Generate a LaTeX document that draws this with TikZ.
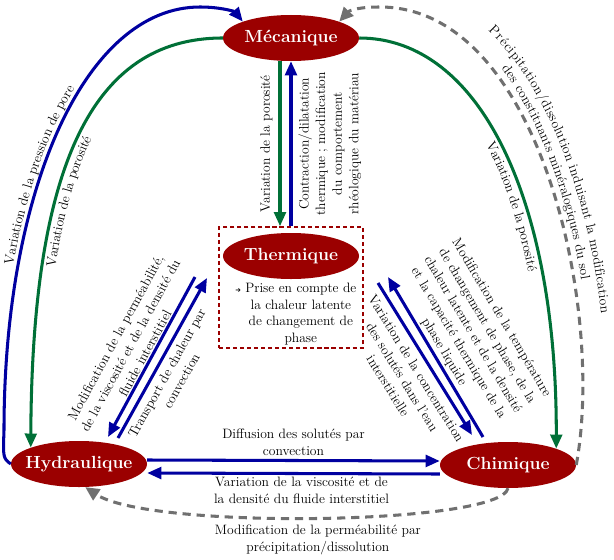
\documentclass[tikz,border=0pt]{standalone}
\usepackage{amsmath}
\usepackage{pifont}
\usepackage{xcolor}
\usepackage{tikz}
\usetikzlibrary{shapes.geometric,arrows.meta}
\usetikzlibrary{decorations.text}
\usetikzlibrary{calc}

\definecolor{darkred}{RGB}{155,0,0}
\definecolor{arrowblue}{RGB}{0,0,160}
\definecolor{arrowgreen}{RGB}{0,112,55}
\definecolor{dashgray}{RGB}{112,112,112}

\newcommand{\domtext}[1]{\makebox[0pt]{#1}}
\newcommand{\labelfont}{\fontsize{11.6}{14.2}\selectfont}

\begin{document}
\begin{tikzpicture}[x=0.03cm, y=-0.03cm,
	lbl/.style={font=\labelfont, align=center, inner sep=1pt},
	bluearrow/.style={draw=arrowblue, line width=2.6pt, -{Triangle[length=12pt,width=10pt]}},
	greenarrow/.style={draw=arrowgreen, line width=2.6pt, -{Triangle[length=12pt,width=10pt]}},
	grayarrow/.style={draw=dashgray, line width=2.6pt, dash pattern=on 7pt off 5pt, -{Triangle[length=12pt,width=11pt]}},
	curvelbl/.style={decorate, decoration={text along path, #1}}]
	\useasboundingbox (0,0) rectangle (614,560);

		%% domaines
		\node[draw=darkred, dash pattern=on 3.5pt off 2.5pt, line width=1.3pt, minimum width=4.32cm, minimum height=3.63cm, inner sep=0pt] (thbox) at (291,287.5) {};

		\begin{scope}[every node/.style={ellipse, fill=darkred, text=white, font=\fontsize{15}{18}\selectfont\bfseries, minimum width=4.08cm, minimum height=1.38cm, inner sep=0pt}]
		\node (mec) at (291,38) {\domtext{Mécanique}};
		\node (therm) at (291,256) {\domtext{Thermique}};
		\node (hyd) at (79,464) {\domtext{Hydraulique}};
		\node (chim) at (508,465) {\domtext{Chimique}};
		\end{scope}

		\node[lbl] (thtext) at (296,314) {{\tiny\ding{212}}\ \begin{tabular}[t]{@{}c@{}}Prise en compte de\\ la chaleur latente\\ de changement de\\ phase\end{tabular}};

		%% bouts des fleches obliques
		\coordinate (ths1) at (195,277);
		\coordinate (hyn1) at (108,437);
		\coordinate (hyn2) at (118,438);
		\coordinate (ths2) at (207,278);
		\coordinate (thc1) at (388,277);
		\coordinate (chn1) at (483,437);
		\coordinate (thc2) at (378,283);
		\coordinate (chn2) at (472,435);

		%% mecanique <-> thermique
		\draw[greenarrow] ([xshift=-0.33cm]mec.south) -- node[lbl, midway, rotate=90, anchor=south, inner sep=5pt] {Variation de la porosité} ([xshift=-0.33cm]thbox.north);
		\draw[bluearrow] (thbox.north) -- node[lbl, below=4pt, sloped] {Contraction/dilatation\\ thermique ; modification\\ du comportement\\ rhéologique du matériau} (mec.south);

		%% thermique <-> hydraulique
		\draw[bluearrow] (ths1) -- node[lbl, above=0pt, sloped] {Modification de la perméabilité,\\ de la viscosité et de la densité du\\ fluide interstitiel} (hyn1);
		\draw[bluearrow] (hyn2) -- node[lbl, below=3pt, sloped, pos=0.44] {Transport de chaleur par\\ convection} (ths2);

		%% thermique <-> chimique
		\draw[bluearrow] (chn1) -- node[lbl, above=1pt, sloped] {Modification de la température\\ de changement de phase, de la\\ chaleur latente et de la densité\\ et la capacité thermique de la\\ phase liquide} (thc1);
		\draw[bluearrow] (thc2) -- node[lbl, below=4pt, sloped, pos=0.52] {Variation de la concentration\\ des solutés dans l'eau\\ interstitielle} (chn2);

		%% hydraulique <-> chimique
		\draw[bluearrow] ([yshift=0.12cm]hyd.east) -- node[lbl, above=2pt] {Diffusion des solutés par\\ convection} ([yshift=0.12cm]chim.west);
		\draw[bluearrow] ([yshift=-0.27cm]chim.west) -- node[lbl, below=1pt, xshift=0.24cm] {Variation de la viscosité et de\\ la densité du fluide interstitiel} ([yshift=-0.27cm]hyd.east);
		\draw[grayarrow] (chim.south) .. controls (500,525) and (150,530) .. node[lbl, below=4pt] {Modification de la perméabilité par\\ précipitation/dissolution} (hyd.285);

		%% grands arcs
		\draw[bluearrow] (hyd.west) .. controls (3,458) .. (4,430) .. controls (4,190) and (85,7) .. (200,7) .. controls (222,7) and (235,12) .. (mec.north west);
		\draw[greenarrow] (mec.west) .. controls (90,38) and (32,170) .. (hyd.north west);
		\draw[greenarrow] (mec.east) .. controls (480,38) and (557,200) .. (chim.north east);
		\draw[grayarrow] (chim.east) .. controls (605,310) and (540,7) .. (380,7) .. controls (360,7) and (350,10) .. (mec.north east);

		%% textes le long des arcs
		\path[curvelbl={text={|\labelfont|Variation de la pression de pore}, text align=center, raise=4pt}] (hyd.west) .. controls (3,458) .. (4,430) .. controls (4,190) and (85,7) .. (200,7) .. controls (222,7) and (235,12) .. (mec.north west);
		\path[curvelbl={text={|\labelfont|Variation de la porosité}, text align=center, raise=-11pt}] (hyd.north west) .. controls (32,170) and (90,38) .. (mec.west);
		\path[curvelbl={text={|\labelfont|Variation de la porosité}, text align=center, raise=-11pt}] (mec.east) .. controls (480,38) and (557,200) .. (chim.north east);
		\path[curvelbl={text={|\labelfont|Précipitation/dissolution induisant la modification}, text align={center, right indent=40pt}, raise=19pt}] (380,7) .. controls (540,7) and (605,310) .. (chim.east);
		\path[curvelbl={text={|\labelfont|des constituants minéralogiques du sol}, text align={center, right indent=40pt}, raise=6pt}] (380,7) .. controls (540,7) and (605,310) .. (chim.east);

\end{tikzpicture}
\end{document}
